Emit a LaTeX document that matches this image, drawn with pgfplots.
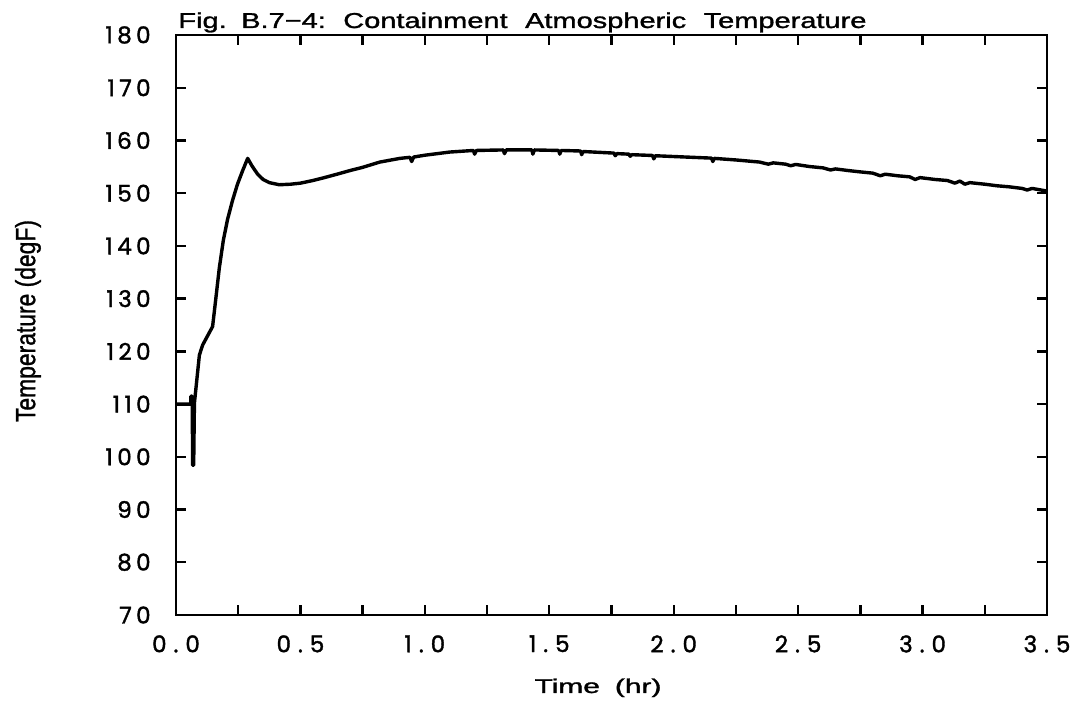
\documentclass[border=0pt]{standalone}
\usepackage{fontspec}
\usepackage{pgfplots}
\pgfplotsset{compat=1.18}
\newfontfamily\tickfont[FakeBold=1.6]{Poppins}
\newfontfamily\labfont[FakeBold=1.2]{Liberation Sans}
\newcommand\gp{\kern2.2bp}
\newcommand\dt{\kern3.5bp.\kern3.5bp}
\begin{document}
\begin{tikzpicture}
\useasboundingbox (0,0) rectangle (542.5bp,352bp);
\begin{axis}[
  at={(88bp,44.5bp)}, anchor=south west,
  scale only axis, width=435.5bp, height=290bp,
  xmin=0, xmax=3.5, ymin=70, ymax=180,
  axis line style={line width=1.4bp},
  every tick/.style={black, line width=1.2bp},
  tick align=inside,
  major tick length=5bp, minor tick length=5bp,
  xtick={0,0.5,1,1.5,2,2.5,3,3.5},
  minor xtick={0.25,0.75,1.25,1.75,2.25,2.75,3.25},
  xticklabels={0\dt0,0\dt5,1\dt0,1\dt5,2\dt0,2\dt5,3\dt0,3\dt5},
  ytick={70,80,90,100,110,120,130,140,150,160,170,180},
  yticklabels={7\gp0,8\gp0,9\gp0,1\gp0\gp0,1\gp1\gp0,1\gp2\gp0,1\gp3\gp0,1\gp4\gp0,1\gp5\gp0,1\gp6\gp0,1\gp7\gp0,1\gp8\gp0},
  ticklabel style={font=\tickfont\fontsize{11.5bp}{13bp}\selectfont},
  xticklabel style={inner sep=0pt, yshift=-10bp},
  yticklabel style={inner sep=0pt, xshift=-12.5bp},
  clip=false,
]
\addplot[black, line width=1.7bp, line join=round] coordinates {
(0,110) (0.06,110) (0.06,111.5) (0.065,111.5) (0.067,98.4) (0.071,98.4) (0.074,110.2)
(0.094,119.3) (0.107,121.2) (0.147,124.7) (0.16,130) (0.174,135.8) (0.19,141)
(0.207,145.0) (0.227,148.6) (0.247,151.7) (0.268,154.3) (0.288,156.6) (0.305,155.2)
(0.328,153.6) (0.35,152.6) (0.375,152.0) (0.415,151.6) (0.46,151.7) (0.5,151.9)
(0.55,152.4) (0.6,153.0) (0.647,153.6) (0.7,154.3) (0.75,154.9) (0.819,155.9)
(0.9,156.6) (0.94,156.8) (0.947,156.0) (0.955,156.85) (1.0,157.2) (1.1,157.8)
(1.195,158.1) (1.2,157.4) (1.207,158.1) (1.315,158.2) (1.32,157.5) (1.327,158.2)
(1.43,158.2) (1.434,157.4) (1.44,158.2) (1.538,158.1) (1.542,157.4) (1.548,158.1)
(1.626,158.0) (1.63,157.3) (1.636,157.9) (1.76,157.6) (1.765,157.1) (1.772,157.5)
(1.82,157.4) (1.825,157.0) (1.832,157.3) (1.915,157.15) (1.92,156.5) (1.926,157.1)
(2.0,156.95) (2.1,156.75) (2.152,156.65) (2.157,156.0) (2.163,156.6) (2.25,156.3)
(2.345,155.9) (2.38,155.5) (2.40,155.75) (2.45,155.5) (2.47,155.2) (2.49,155.45)
(2.546,155.05) (2.6,154.8) (2.63,154.4) (2.65,154.6) (2.70,154.3) (2.747,154.05)
(2.8,153.8) (2.83,153.3) (2.85,153.6) (2.9,153.3) (2.948,153.1) (2.97,152.6)
(2.99,152.95) (3.05,152.6) (3.1,152.4) (3.13,151.9) (3.15,152.3) (3.17,151.7)
(3.19,152.0) (3.25,151.7) (3.3,151.4) (3.349,151.2) (3.4,150.9) (3.42,150.6)
(3.44,150.9) (3.5,150.4)
};
\end{axis}
\node[anchor=base west, inner sep=0pt] at (89bp,338bp)
  {\resizebox{344bp}{7.8bp}{\labfont Fig.\hspace{0.5em}B.7−4:\hspace{0.6em}Containment\hspace{0.6em}Atmospheric\hspace{0.6em}Temperature}};
\node[rotate=90, inner sep=0pt] at (14bp,191.5bp)
  {\resizebox{101bp}{10bp}{\labfont Temperature (degF)}};
\node[anchor=base, inner sep=0pt] at (299bp,5.5bp)
  {\resizebox{63.5bp}{7.2bp}{\labfont Time\hspace{0.5em}(hr)}};
\end{tikzpicture}
\end{document}
